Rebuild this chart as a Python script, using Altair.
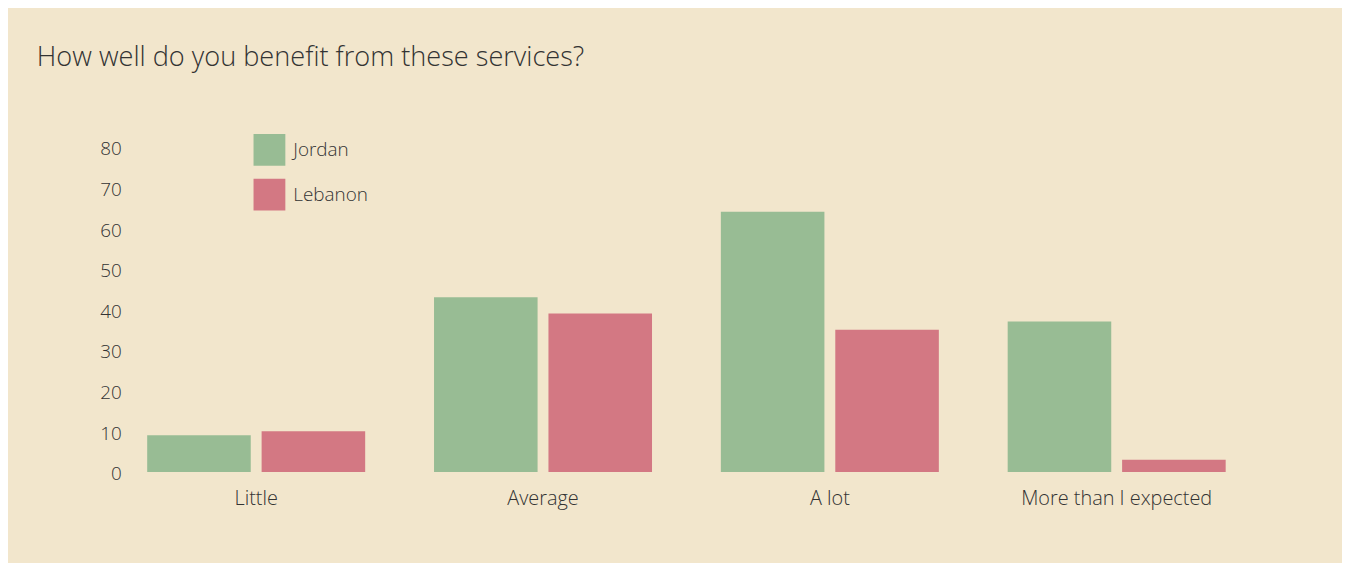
import altair as alt
import pandas as pd

categories = ["Little", "Average", "A lot", "More than I expected"]
countries = ["Jordan", "Lebanon"]
jordan = [9, 43, 64, 37]
lebanon = [10, 39, 35, 3]
y_ticks = [0, 10, 20, 30, 40, 50, 60, 70, 80]

rows = []
for c, j, l in zip(categories, jordan, lebanon):
    rows.append({"category": c, "country": "Jordan", "value": j})
    rows.append({"category": c, "country": "Lebanon", "value": l})
df = pd.DataFrame(rows)

FONT = "Open Sans"
TXT = "#333333"
BG = "#F2E6CC"

chart = alt.Chart(df).mark_bar().encode(
    x=alt.X("category:N", sort=categories,
            scale=alt.Scale(paddingInner=0.24, paddingOuter=0.059),
            axis=alt.Axis(title=None, labelAngle=0, domain=False, ticks=False,
                          tickSize=0, labelPadding=17, labelFontSize=20,
                          labelFontWeight=300, labelLimit=500,
                          labelColor=TXT, labelFont=FONT)),
    xOffset=alt.XOffset("country:N", sort=countries,
                        scale=alt.Scale(paddingInner=0.095, paddingOuter=0)),
    y=alt.Y("value:Q", scale=alt.Scale(domain=[0, 80], nice=False, zero=True),
            axis=alt.Axis(title=None, values=y_ticks, grid=False, domain=False,
                          ticks=False, tickSize=0, labelPadding=9, labelOffset=2,
                          labelFontSize=19, labelFontWeight=300,
                          labelColor=TXT, labelFont=FONT)),
    color=alt.Color("country:N",
                    scale=alt.Scale(domain=countries, range=["#98BC94", "#D37883"]),
                    legend=alt.Legend(title=None, orient="none", legendX=124, legendY=-13,
                                      symbolType="square", symbolSize=1024,
                                      symbolStrokeWidth=0, symbolOpacity=1,
                                      labelFontSize=19, labelFont=FONT, labelColor=TXT,
                                      labelFontWeight=300,
                                      labelOffset=8, rowPadding=13, padding=0)),
).properties(
    width=1119,
    height=327,
    title=alt.TitleParams("How well do you benefit from these services?",
                          anchor="start", frame="group", dx=-94, offset=63,
                          fontSize=27.3, font=FONT, fontWeight=300, color=TXT),
    background=BG,
    padding={"left": 123, "top": 138, "right": 100, "bottom": 90},
    autosize=alt.AutoSizeParams(type="none"),
).configure_view(strokeWidth=0)

chart.save("out.html", embed_options={"renderer": "svg", "actions": False})
